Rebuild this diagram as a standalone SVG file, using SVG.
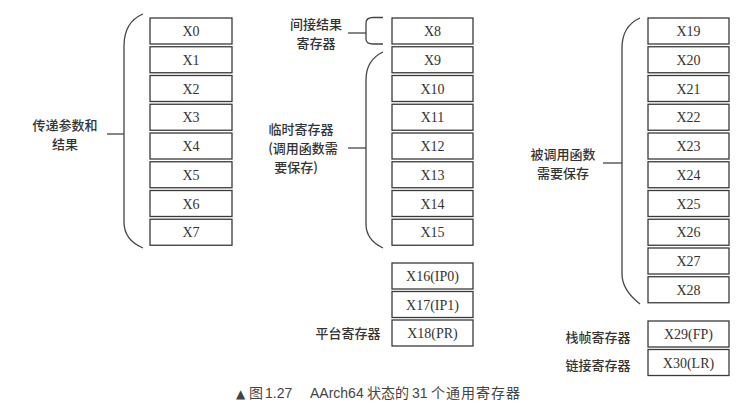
<svg xmlns="http://www.w3.org/2000/svg" width="750" height="414" viewBox="0 0 750 414">
<style>
.box rect{fill:#fff;stroke:#3a3a3a;stroke-width:1.3}
.box text{font-family:"Liberation Serif","Times New Roman",serif;font-size:14px;fill:#333;text-anchor:middle}
.lbl{font-family:"Noto Sans CJK SC","Noto Sans",sans-serif;font-size:13px;fill:#333;font-weight:500;text-anchor:middle}
.con path{fill:none;stroke:#444;stroke-width:1.3}
.cap{font-family:"Liberation Sans","Noto Sans CJK SC",sans-serif;font-size:14px;fill:#444}
</style>
<rect width="750" height="414" fill="#fff"/>
<g id="col1">
<g id="x0" class="box"><rect x="150" y="18" width="82" height="26"/><text x="191" y="36">X0</text></g>
<g id="x1" class="box"><rect x="150" y="46.75" width="82" height="26"/><text x="191" y="64.75">X1</text></g>
<g id="x2" class="box"><rect x="150" y="75.5" width="82" height="26"/><text x="191" y="93.5">X2</text></g>
<g id="x3" class="box"><rect x="150" y="104.25" width="82" height="26"/><text x="191" y="122.25">X3</text></g>
<g id="x4" class="box"><rect x="150" y="133" width="82" height="26"/><text x="191" y="151">X4</text></g>
<g id="x5" class="box"><rect x="150" y="161.75" width="82" height="26"/><text x="191" y="179.75">X5</text></g>
<g id="x6" class="box"><rect x="150" y="190.5" width="82" height="26"/><text x="191" y="208.5">X6</text></g>
<g id="x7" class="box"><rect x="150" y="219.25" width="82" height="26"/><text x="191" y="237.25">X7</text></g>
</g>
<g id="col2">
<g id="x8" class="box"><rect x="392" y="18" width="81" height="26"/><text x="432.5" y="36">X8</text></g>
<g id="x9" class="box"><rect x="392" y="46.75" width="81" height="26"/><text x="432.5" y="64.75">X9</text></g>
<g id="x10" class="box"><rect x="392" y="75.5" width="81" height="26"/><text x="432.5" y="93.5">X10</text></g>
<g id="x11" class="box"><rect x="392" y="104.25" width="81" height="26"/><text x="432.5" y="122.25">X11</text></g>
<g id="x12" class="box"><rect x="392" y="133" width="81" height="26"/><text x="432.5" y="151">X12</text></g>
<g id="x13" class="box"><rect x="392" y="161.75" width="81" height="26"/><text x="432.5" y="179.75">X13</text></g>
<g id="x14" class="box"><rect x="392" y="190.5" width="81" height="26"/><text x="432.5" y="208.5">X14</text></g>
<g id="x15" class="box"><rect x="392" y="219.25" width="81" height="26"/><text x="432.5" y="237.25">X15</text></g>
<g id="x16" class="box"><rect x="392" y="263" width="81" height="26"/><text x="432.5" y="281">X16(IP0)</text></g>
<g id="x17" class="box"><rect x="392" y="291.5" width="81" height="26"/><text x="432.5" y="309.5">X17(IP1)</text></g>
<g id="x18" class="box"><rect x="392" y="320" width="81" height="26"/><text x="432.5" y="338">X18(PR)</text></g>
</g>
<g id="col3">
<g id="x19" class="box"><rect x="648" y="18" width="81" height="26"/><text x="688.5" y="36">X19</text></g>
<g id="x20" class="box"><rect x="648" y="46.75" width="81" height="26"/><text x="688.5" y="64.75">X20</text></g>
<g id="x21" class="box"><rect x="648" y="75.5" width="81" height="26"/><text x="688.5" y="93.5">X21</text></g>
<g id="x22" class="box"><rect x="648" y="104.25" width="81" height="26"/><text x="688.5" y="122.25">X22</text></g>
<g id="x23" class="box"><rect x="648" y="133" width="81" height="26"/><text x="688.5" y="151">X23</text></g>
<g id="x24" class="box"><rect x="648" y="161.75" width="81" height="26"/><text x="688.5" y="179.75">X24</text></g>
<g id="x25" class="box"><rect x="648" y="190.5" width="81" height="26"/><text x="688.5" y="208.5">X25</text></g>
<g id="x26" class="box"><rect x="648" y="219.25" width="81" height="26"/><text x="688.5" y="237.25">X26</text></g>
<g id="x27" class="box"><rect x="648" y="248" width="81" height="26"/><text x="688.5" y="266">X27</text></g>
<g id="x28" class="box"><rect x="648" y="276.75" width="81" height="26"/><text x="688.5" y="294.75">X28</text></g>
<g id="x29" class="box"><rect x="648" y="321" width="81" height="26"/><text x="688.5" y="339">X29(FP)</text></g>
<g id="x30" class="box"><rect x="648" y="349.5" width="81" height="26"/><text x="688.5" y="367.5">X30(LR)</text></g>
</g>
<g id="connectors" class="con">
<path d="M143,14 Q124,22 124,46 L124,222 Q124,240 143,248"/>
<path d="M107,134 H124"/>
<path d="M383,17.5 L373,17.5 Q366,17.5 366,23 L366,39 Q366,44 373,44 L383,44"/>
<path d="M348,33 H366"/>
<path d="M383,52 Q366,60 366,80 L366,224 Q366,240 383,248"/>
<path d="M348,148 H366"/>
<path d="M640,18 Q622,26 622,48 L622,274 Q622,290 640,304"/>
<path d="M603,163 H622"/>
</g>
<g id="labels">
<text class="lbl" x="65" y="130">传递参数和</text>
<text class="lbl" x="65" y="149">结果</text>
<text class="lbl" x="316" y="29">间接结果</text>
<text class="lbl" x="316" y="48">寄存器</text>
<text class="lbl" x="301" y="134">临时寄存器</text>
<text class="lbl" x="303" y="153">(调用函数需</text>
<text class="lbl" x="296" y="172">要保存)</text>
<text class="lbl" x="563" y="159">被调用函数</text>
<text class="lbl" x="563" y="178">需要保存</text>
<text class="lbl" x="348" y="338">平台寄存器</text>
<text class="lbl" x="598" y="342">栈帧寄存器</text>
<text class="lbl" x="598" y="370">链接寄存器</text>
</g>
<g id="caption" class="cap">
<text x="236" y="398" font-family="DejaVu Sans,sans-serif" font-size="12">▲</text>
<text x="249" y="398">图</text>
<text x="265" y="398">1.27</text>
<text x="310" y="398">AArch64</text>
<text x="367" y="398">状态的</text>
<text x="412" y="398">31</text>
<text x="431" y="398" letter-spacing="1">个通用寄存器</text>
</g>
</svg>
